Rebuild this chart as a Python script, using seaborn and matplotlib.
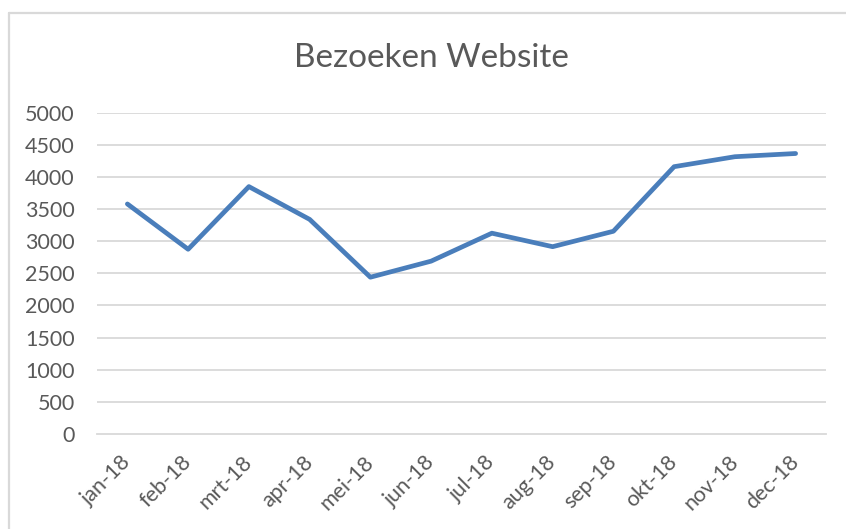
import numpy as np
import pandas as pd
import matplotlib
matplotlib.use("Agg")
import matplotlib.pyplot as plt
from matplotlib.lines import Line2D
from matplotlib.transforms import ScaledTranslation
import seaborn as sns

maanden = ['jan-18', 'feb-18', 'mrt-18', 'apr-18', 'mei-18', 'jun-18',
           'jul-18', 'aug-18', 'sep-18', 'okt-18', 'nov-18', 'dec-18']
bezoeken = [3580, 2875, 3850, 3340, 2440, 2690, 3125, 2915, 3155, 4160, 4315, 4365]
y_ticks = [0, 500, 1000, 1500, 2000, 2500, 3000, 3500, 4000, 4500, 5000]

data = pd.DataFrame({'pos': np.arange(len(maanden)), 'bezoeken': bezoeken})

sns.set_style('white')
plt.rcParams['font.family'] = ['Lato', 'DejaVu Sans']

W, H = 846, 529
fig = plt.figure(figsize=(W / 100, H / 100), dpi=100)
ax = fig.add_axes([97 / W, 1 - 434 / H, (826 - 97) / W, (434 - 112.7) / H])

grid_col = '#D9D9D9'
text_col = '#595959'

for v in y_ticks[1:]:
    ax.axhline(v, color=grid_col, lw=1.3, zorder=0)

sns.lineplot(data=data, x='pos', y='bezoeken', ax=ax, color='#4A7EBB',
             lw=3.4, solid_capstyle='round', solid_joinstyle='round', zorder=3)

ax.set_xlim(-0.5, len(maanden) - 0.5)
ax.set_ylim(0, 5000)
ax.set_yticks(y_ticks)
ax.set_yticklabels([str(v) for v in y_ticks], fontsize=15.5, color=text_col)
ax.tick_params(axis='y', length=0, pad=16)

ax.set_xticks(np.arange(len(maanden)))
ax.set_xticklabels(maanden, fontsize=15.5, color=text_col, rotation=45,
                   ha='right', rotation_mode='anchor', va='center')
shift = ScaledTranslation(4 / 100, 0, fig.dpi_scale_trans)
for lab in ax.get_xticklabels():
    lab.set_transform(lab.get_transform() + shift)
ax.set_xticks(np.arange(len(maanden) + 1) - 0.5, minor=True)
ax.tick_params(axis='x', which='major', length=0, pad=18)
ax.tick_params(axis='x', which='minor', length=5, width=1.3, color=grid_col, direction='out')

ax.set_xlabel('')
ax.set_ylabel('')
for s in ['left', 'right', 'top']:
    ax.spines[s].set_visible(False)
ax.spines['bottom'].set_color(grid_col)
ax.spines['bottom'].set_linewidth(1.3)

fig.text(431 / W, 1 - 58 / H, 'Bezoeken Website', ha='center', va='center',
         fontsize=24, color=text_col)

# chart area border
fig.add_artist(Line2D([9 / W, 9 / W], [0, 1 - 13 / H], transform=fig.transFigure,
                      color=grid_col, lw=1.6))
fig.add_artist(Line2D([9 / W, 1], [1 - 13 / H, 1 - 13 / H], transform=fig.transFigure,
                      color=grid_col, lw=1.6))

fig.savefig('out.png', dpi=100, facecolor='white')
